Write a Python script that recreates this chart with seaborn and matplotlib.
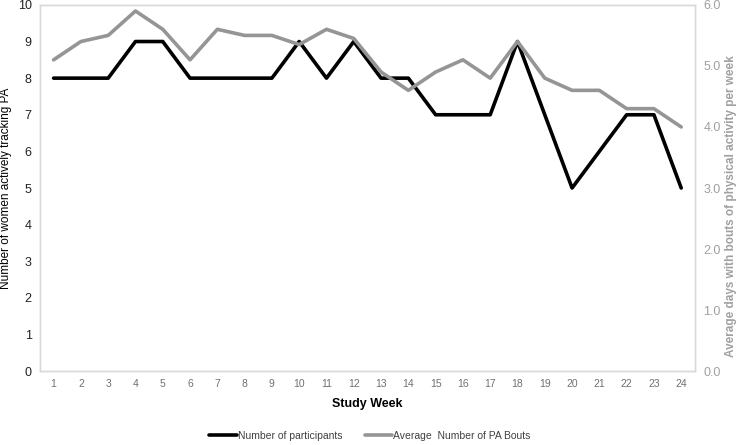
import matplotlib
matplotlib.use("Agg")
import matplotlib.pyplot as plt
import seaborn as sns
import pandas as pd

weeks = list(range(1, 25))
participants = [8, 8, 8, 9, 9, 8, 8, 8, 8, 9, 8, 9, 8, 8, 7, 7, 7, 9, 7, 5, 6, 7, 7, 5]
pa_bouts = [5.1, 5.4, 5.5, 5.9, 5.6, 5.1, 5.6, 5.5, 5.5, 5.35, 5.6, 5.45,
            4.9, 4.6, 4.9, 5.1, 4.8, 5.4, 4.8, 4.6, 4.6, 4.3, 4.3, 4.0]

sns.set_style("white")
plt.rcParams['font.family'] = ['Liberation Sans', 'DejaVu Sans']

df = pd.DataFrame({"week": weeks, "participants": participants, "bouts": pa_bouts})

fig = plt.figure(figsize=(7.4, 4.45), dpi=100)
ax = fig.add_axes([0.054, 0.166, 0.885, 0.823])
ax2 = ax.twinx()

sns.lineplot(data=df, x="week", y="participants", ax=ax, color="black", linewidth=2.6,
             label="Number of participants", legend=False)
sns.lineplot(data=df, x="week", y="bouts", ax=ax2, color="#959595", linewidth=2.6,
             label="Average  Number of PA Bouts", legend=False)

ax.set_xlim(0.5, 24.5)
ax.set_ylim(0, 10)
ax2.set_ylim(0, 6)
ax.set_xticks(weeks)
ax.set_xticklabels([str(w) for w in weeks], fontsize=7.5, color="#707070")
ax.set_yticks(range(0, 11))
ax.set_yticklabels([str(v) for v in range(0, 11)], fontsize=9, color="#222222")
ax2.set_yticks([0, 1, 2, 3, 4, 5, 6])
ax2.set_yticklabels([f"{v:.1f}" for v in [0, 1, 2, 3, 4, 5, 6]], fontsize=9, color="#a0a0a0")
ax.tick_params(axis="both", length=0, pad=6)
ax2.tick_params(axis="y", length=0, pad=6)

ax.set_xlabel("Study Week", fontsize=9, fontweight="bold", color="black", labelpad=6)
ax.set_ylabel("Number of women actively tracking PA", fontsize=8.5, color="black", labelpad=4)
ax2.set_ylabel("Average days with bouts of physical activity per week", fontsize=8.5,
               fontweight="bold", color="#a0a0a0", labelpad=3)
ax2.yaxis.set_label_coords(1.046, 0.45)

for a in (ax, ax2):
    for s in a.spines.values():
        s.set_color("#d9d9d9")
        s.set_linewidth(1)
ax.grid(False)
ax2.grid(False)

h1, l1 = ax.get_legend_handles_labels()
h2, l2 = ax2.get_legend_handles_labels()
leg = fig.legend(h1 + h2, l1 + l2, loc="lower center", bbox_to_anchor=(0.5, -0.012), ncol=2,
                 frameon=False, fontsize=7.5, handlelength=2.6, handletextpad=0.1,
                 columnspacing=2.2)
for t in leg.get_texts():
    t.set_color("#404040")

fig.savefig("out.png", dpi=100)
